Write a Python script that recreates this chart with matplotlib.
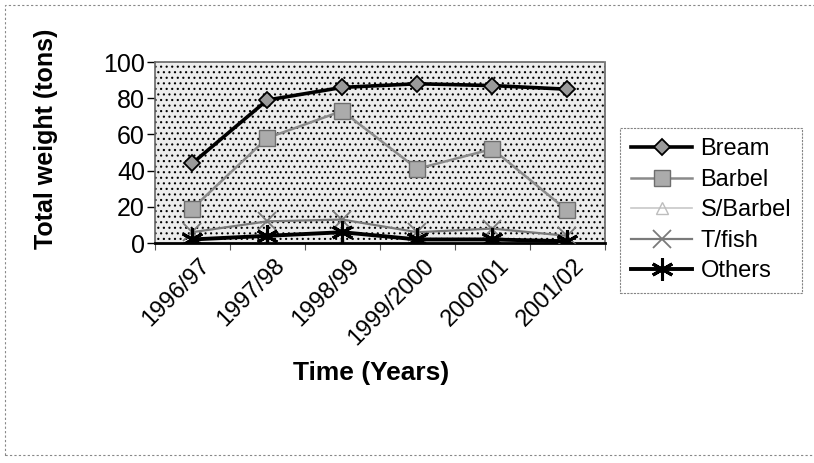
import numpy as np
from matplotlib import pyplot as plt
from matplotlib.patches import Rectangle
import matplotlib.transforms as mtransforms

# data
years = ['1996/97', '1997/98', '1998/99', '1999/2000', '2000/01', '2001/02']
bream = [44, 79, 86, 88, 87, 85]
barbel = [19, 58, 73, 41, 52, 18]
s_barbel = [0, 0, 0, 0, 0, 0]
t_fish = [6, 12, 13, 6, 8, 4]
others = [2, 4, 6, 2, 2, 1]

plt.rcParams['font.family'] = ['Liberation Sans', 'DejaVu Sans']
plt.rcParams['hatch.color'] = '#b4b4b4'
plt.rcParams['hatch.linewidth'] = 0.8

fig = plt.figure(figsize=(8.14, 4.63), dpi=100)
ax = fig.add_axes([0.19, 0.475, 0.553, 0.391])
ax.set_facecolor('#ececec')
# stippled fill of the plot area
ax.add_patch(Rectangle((0, 0), 1, 1, transform=ax.transAxes, fill=False,
                       hatch='...', lw=0, zorder=0))

x = np.arange(len(years))
asterisk = (6, 2, 0)
ax.plot(x, bream, color='black', lw=2.6, marker='D', ms=8, mfc='#9a9a9a', mec='black', mew=1.3, label='Bream', zorder=5)
ax.plot(x, barbel, color='#8a8a8a', lw=1.8, marker='s', ms=12, mfc='#ababab', mec='#6e6e6e', label='Barbel', zorder=4)
ax.plot(x, s_barbel, color='#c8c8c8', lw=1.2, marker='^', ms=8, mfc='none', mec='#bdbdbd', label='S/Barbel', zorder=2)
ax.plot(x, t_fish, color='#7a7a7a', lw=1.6, marker='x', ms=13, mew=1.3, mec='#7a7a7a', label='T/fish', zorder=3)
ax.plot(x, others, color='black', lw=2.8, marker=asterisk, ms=16, mew=2.2, mec='black', label='Others', zorder=6)

ax.set_xlim(-0.5, len(years) - 0.5)
ax.set_ylim(0, 100)
ax.set_yticks([0, 20, 40, 60, 80, 100])
ax.tick_params(axis='y', labelsize=18, length=6, width=1, direction='out', pad=1)

ax.set_xticks(x)
ax.set_xticklabels(years, rotation=45, ha='right', va='center', rotation_mode='anchor', fontsize=17)
ax.tick_params(axis='x', length=0, pad=14)
shift = mtransforms.ScaledTranslation(0.14, 0, fig.dpi_scale_trans)
for lab in ax.get_xticklabels():
    lab.set_transform(lab.get_transform() + shift)
ax.set_xticks(np.arange(-0.5, len(years)), minor=True)
ax.tick_params(axis='x', which='minor', length=5, width=0.8, color='#555555')

for s in ['top', 'right', 'left']:
    ax.spines[s].set_color('#666666')
    ax.spines[s].set_linestyle((0, (1, 1)))
    ax.spines[s].set_linewidth(1.2)
ax.spines['bottom'].set_color('black')
ax.spines['bottom'].set_linewidth(2)

ax.set_ylabel('Total weight (tons)', fontsize=18, fontweight='bold')
ax.yaxis.set_label_coords(-0.215, 0.575)
ax.set_xlabel('Time (Years)', fontsize=19, fontweight='bold')
ax.xaxis.set_label_coords(0.48, -0.65)

leg = fig.legend(loc='upper left', bbox_to_anchor=(0.762, 0.724), fontsize=17,
                 frameon=True, fancybox=False, handlelength=2.6, handletextpad=0.35,
                 labelspacing=0.36, borderpad=0.45, borderaxespad=0)
leg.get_frame().set_edgecolor('#666666')
leg.get_frame().set_linestyle((0, (2, 1)))
leg.get_frame().set_linewidth(0.8)

# dashed outer frame of the chart
fig.patches.append(Rectangle((0.006, 0.017), 1.0, 0.972, transform=fig.transFigure,
                             fill=False, ec='#888888', lw=0.8, ls=(0, (2, 2))))

fig.savefig('out.png', dpi=100)
